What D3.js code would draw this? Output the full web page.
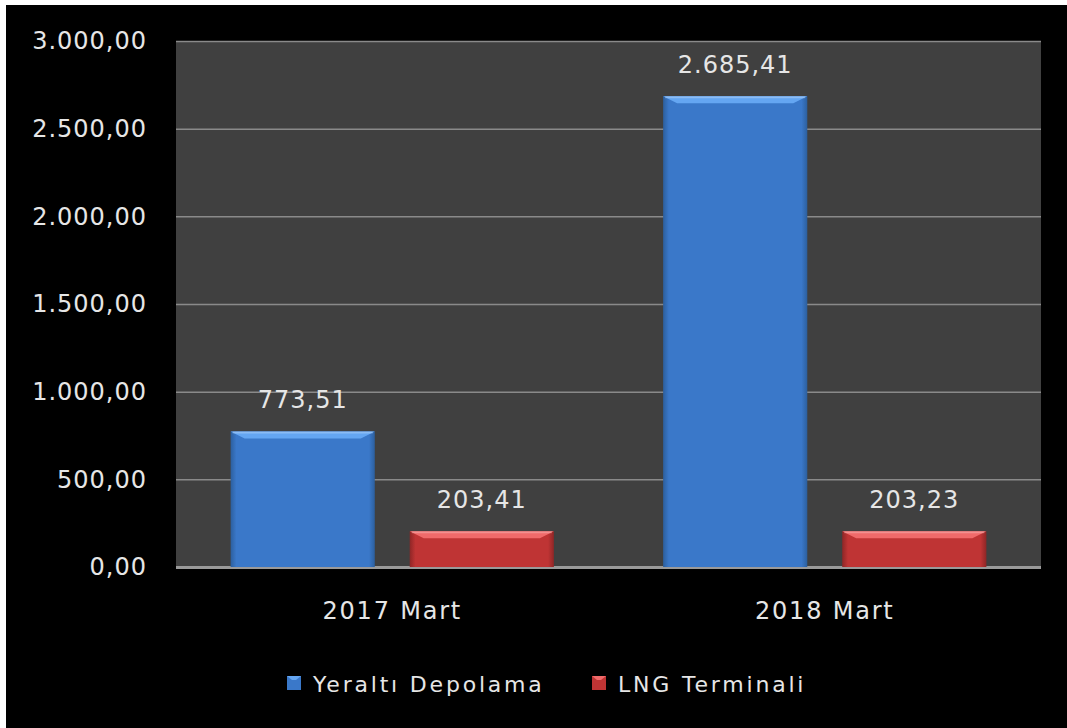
<!DOCTYPE html>
<html>
<head>
<meta charset="utf-8">
<script src="https://cdn.jsdelivr.net/npm/d3@7"></script>
<style>
  body { margin: 0; background: #fff; }
  svg { display: block; }
  text { font-family: "DejaVu Sans", Verdana, sans-serif; fill: #e6e6e6; }
</style>
</head>
<body>
<div class="plot"></div>
<script>
var categories = ["2017 Mart", "2018 Mart"];
var seriesNames = ["Yeraltı Depolama", "LNG Terminali"];
var yeraltiValues = [773.51, 2685.41];
var lngValues = [203.41, 203.23];
var yTicks = [0, 500, 1000, 1500, 2000, 2500, 3000];

var W = 1067, H = 728;
var margin = {top: 41, right: 26, bottom: 161, left: 176},
    width = W - margin.left - margin.right,
    height = H - margin.top - margin.bottom;

var svg = d3.select(".plot").append("svg")
    .attr("width", W).attr("height", H);

// white strip top/left then black chart area
svg.append("rect").attr("width", W).attr("height", H).attr("fill", "#fff");
svg.append("rect").attr("x", 6).attr("y", 5).attr("width", W - 6).attr("height", H - 5).attr("fill", "#000");

var defs = svg.append("defs");
function barGrad(id, edge, mid) {
  var g = defs.append("linearGradient").attr("id", id).attr("x1", 0).attr("x2", 1).attr("y1", 0).attr("y2", 0);
  g.append("stop").attr("offset", "0%").attr("stop-color", edge);
  g.append("stop").attr("offset", "4%").attr("stop-color", mid);
  g.append("stop").attr("offset", "96%").attr("stop-color", mid);
  g.append("stop").attr("offset", "100%").attr("stop-color", edge);
}
barGrad("gBlue", "#2c5f9e", "#3a78c9");
barGrad("gRed", "#8e2626", "#bf3434");

var fmt = d3.formatLocale({decimal: ",", thousands: ".", grouping: [3], currency: ["", ""]}).format(",.2f");

var x0 = d3.scaleBand().domain(categories).range([0, width]).paddingInner(0).paddingOuter(0);
var x1 = d3.scaleBand().domain(seriesNames).range([0, x0.bandwidth()]).paddingInner(0.195).paddingOuter(0.305);
var y = d3.scaleLinear().domain([0, 3000]).range([height, 0]);

var g = svg.append("g").attr("transform", "translate(" + margin.left + "," + margin.top + ")");

g.append("rect").attr("width", width).attr("height", height).attr("fill", "#404040");

// gridlines
g.append("g")
  .call(d3.axisLeft(y).tickValues(yTicks).tickSize(-width).tickFormat(""))
  .call(function(s){ s.select(".domain").remove(); })
  .selectAll("line")
  .attr("stroke", function(d){ return d === 0 ? "#9a9a9a" : "#8a8a8a"; })
  .attr("stroke-width", function(d){ return d === 0 ? 3 : 1.5; });

// y labels
g.append("g")
  .call(d3.axisLeft(y).tickValues(yTicks).tickSize(0).tickPadding(29).tickFormat(fmt))
  .call(function(s){ s.select(".domain").remove(); })
  .selectAll("text")
  .style("font-size", "24px").style("letter-spacing", "1px").attr("fill", "#e6e6e6");

var data = categories.map(function(c, i) {
  return {cat: c, vals: [
    {name: seriesNames[0], value: yeraltiValues[i], fill: "url(#gBlue)", top: "#64a6f2", edge: "#4b8ad8"},
    {name: seriesNames[1], value: lngValues[i], fill: "url(#gRed)", top: "#f06a6a", edge: "#d44a4a"}
  ]};
});

var grp = g.selectAll(".grp").data(data).enter().append("g")
  .attr("transform", function(d){ return "translate(" + x0(d.cat) + ",0)"; });

var bar = grp.selectAll(".bar").data(function(d){ return d.vals; }).enter().append("g");

bar.append("rect")
  .attr("x", function(d){ return x1(d.name); })
  .attr("y", function(d){ return y(d.value); })
  .attr("width", x1.bandwidth())
  .attr("height", function(d){ return height - y(d.value); })
  .attr("fill", function(d){ return d.fill; });

// bevel on top
bar.append("path")
  .attr("d", function(d){
    var xl = x1(d.name), xr = xl + x1.bandwidth(), yt = y(d.value), b = 7;
    return "M" + xl + "," + yt + "L" + xr + "," + yt + "L" + (xr - b * 2) + "," + (yt + b) + "L" + (xl + b * 2) + "," + (yt + b) + "Z";
  })
  .attr("fill", function(d){ return d.top; });
bar.append("line")
  .attr("x1", function(d){ return x1(d.name) + 2; })
  .attr("x2", function(d){ return x1(d.name) + x1.bandwidth() - 2; })
  .attr("y1", function(d){ return y(d.value) + 1; })
  .attr("y2", function(d){ return y(d.value) + 1; })
  .attr("stroke", "#ffffff").attr("stroke-opacity", 0.25).attr("stroke-width", 2);

// value labels
bar.append("text")
  .attr("x", function(d){ return x1(d.name) + x1.bandwidth() / 2; })
  .attr("y", function(d){ return y(d.value) - 23; })
  .attr("text-anchor", "middle")
  .style("font-size", "24px").style("letter-spacing", "1px")
  .text(function(d){ return fmt(d.value); });

// x labels
g.append("g").attr("transform", "translate(0," + height + ")")
  .call(d3.axisBottom(x0).tickSize(0).tickPadding(35))
  .call(function(s){ s.select(".domain").remove(); })
  .selectAll("text")
  .style("font-size", "24px").style("letter-spacing", "1.8px").attr("fill", "#e6e6e6");

// legend
var legendX = [287, 592];
var legendCol = [["#3a78c9", "#64a6f2"], ["#bf3434", "#f06a6a"]];
var leg = svg.selectAll(".leg").data(seriesNames).enter().append("g")
  .attr("transform", function(d, i){ return "translate(" + legendX[i] + ",676)"; });
leg.append("rect").attr("width", 14).attr("height", 14)
  .attr("fill", function(d, i){ return legendCol[i][0]; });
leg.append("path").attr("d", "M0,0L14,0L9,4L5,4Z")
  .attr("fill", function(d, i){ return legendCol[i][1]; });
leg.append("text").attr("x", 26).attr("y", 16)
  .style("font-size", "22px").style("letter-spacing", "2.8px")
  .text(function(d){ return d; });
</script>
</body>
</html>
